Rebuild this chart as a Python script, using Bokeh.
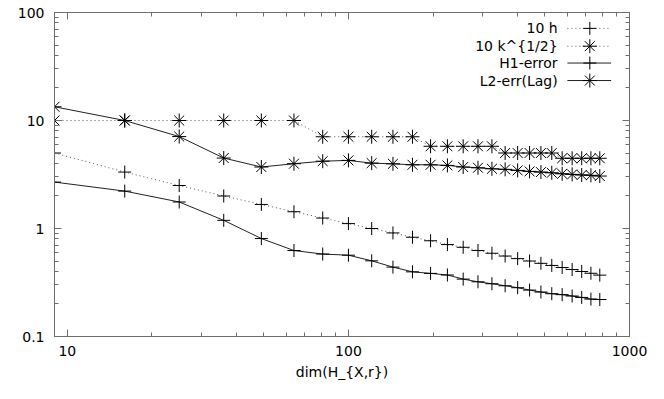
import math
from bokeh.plotting import figure
from bokeh.models import LogAxis, FixedTicker, Range1d, CustomJSTickFormatter
from bokeh.core.properties import value
from bokeh.embed import file_html
from bokeh.resources import INLINE

# ---- data ----
dims = [9, 16, 25, 36, 49, 64, 81, 100, 121, 144, 169, 196, 225, 256, 289,
        324, 361, 400, 441, 484, 529, 576, 625, 676, 729, 784]
ten_h = [5.0, 3.33, 2.5, 2.0, 1.67, 1.43, 1.25, 1.11, 1.0, 0.91, 0.83, 0.77,
         0.71, 0.67, 0.625, 0.59, 0.556, 0.526, 0.5, 0.476, 0.455, 0.435,
         0.417, 0.4, 0.385, 0.37]
ten_k = [10.0, 10.0, 10.0, 10.0, 10.0, 10.0, 7.07, 7.07, 7.07, 7.07, 7.07,
         5.77, 5.77, 5.77, 5.77, 5.77, 5.0, 5.0, 5.0, 5.0, 5.0,
         4.47, 4.47, 4.47, 4.47, 4.47]
h1_err = [2.69, 2.22, 1.76, 1.19, 0.807, 0.625, 0.58, 0.566, 0.502, 0.439,
          0.397, 0.384, 0.371, 0.340, 0.321, 0.308, 0.295, 0.283, 0.269,
          0.258, 0.249, 0.244, 0.237, 0.230, 0.222, 0.220]
l2_err = [13.4, 10.0, 7.1, 4.49, 3.71, 3.98, 4.2, 4.27, 4.03, 3.97, 3.89,
          3.89, 3.84, 3.71, 3.65, 3.57, 3.53, 3.45, 3.38, 3.33, 3.28, 3.21,
          3.17, 3.13, 3.11, 3.06]
labels = ["10 h", "10 k^{1/2}", "H1-error", "L2-err(Lag)"]
x_major = [10, 100, 1000]
y_major = [0.1, 1, 10, 100]

# ---- styling ----
FONT = "DejaVu Sans"
FS = "14px"
BORDER = "#6e6e6e"
XMIN, XMAX = 9, 1000
YMIN, YMAX = 0.1, 100

p = figure(width=648, height=383, x_axis_type="log", y_axis_type="log",
           x_range=Range1d(XMIN, XMAX), y_range=Range1d(YMIN, YMAX),
           output_backend="svg", toolbar_location=None,
           min_border_left=54, min_border_right=19, min_border_top=12,
           min_border_bottom=47)
p.xgrid.visible = False
p.ygrid.visible = False
p.outline_line_color = BORDER
p.outline_line_width = 1
p.background_fill_color = "white"
p.border_fill_color = "white"

x_minor = [9] + [m * d for d in (10, 100) for m in range(2, 10)]
y_minor = [m * d for d in (0.1, 1, 10) for m in range(2, 10)]
xt = FixedTicker(ticks=x_major, minor_ticks=x_minor)
yt = FixedTicker(ticks=y_major, minor_ticks=y_minor)
fmt = CustomJSTickFormatter(code="return String(tick);")
blank = CustomJSTickFormatter(code="return '';")


def style_axis(ax, show_labels):
    ax.axis_line_color = BORDER
    ax.major_tick_line_color = BORDER
    ax.minor_tick_line_color = BORDER
    ax.major_tick_in = 7
    ax.major_tick_out = 0
    ax.minor_tick_in = 4
    ax.minor_tick_out = 0
    ax.major_label_text_font = FONT
    ax.major_label_text_font_size = FS if show_labels else "1px"
    ax.major_label_text_color = "black"
    ax.major_label_standoff = 9 if show_labels else 0
    ax.axis_label_text_font = FONT
    ax.axis_label_text_font_size = FS
    ax.axis_label_text_font_style = "normal"
    ax.axis_label_text_color = "black"


p.xaxis.ticker = xt
p.yaxis.ticker = yt
p.xaxis.formatter = fmt
p.yaxis.formatter = fmt
style_axis(p.xaxis[0], True)
style_axis(p.yaxis[0], True)
p.yaxis.major_label_standoff = 10
p.xaxis.axis_label = "dim(H_{X,r})"
p.xaxis.axis_label_standoff = 5

top = LogAxis(ticker=xt, formatter=blank)
right = LogAxis(ticker=yt, formatter=blank)
style_axis(top, False)
style_axis(right, False)
p.add_layout(top, "above")
p.add_layout(right, "right")

DOT = dict(line_color="#555555", line_width=1, line_dash="1 3")
SOLID = dict(line_color="#222222", line_width=1)
MK = dict(line_color="black", line_width=1, fill_color=None)

p.line(dims, ten_h, **DOT)
p.scatter(dims, ten_h, marker="cross", size=13, **MK)
p.line(dims, ten_k, **DOT)
p.scatter(dims, ten_k, marker="asterisk", size=14, **MK)
p.line(dims, h1_err, **SOLID)
p.scatter(dims, h1_err, marker="cross", size=13, **MK)
p.line(dims, l2_err, **SOLID)
p.scatter(dims, l2_err, marker="asterisk", size=14, **MK)


# ---- legend (gnuplot style: text right-aligned, sample on the right) ----
def fx(f):
    return 10 ** (math.log10(XMIN) + f * (math.log10(XMAX) - math.log10(XMIN)))


def fy(f):  # fraction from top
    return 10 ** (math.log10(YMAX) - f * (math.log10(YMAX) - math.log10(YMIN)))


rows = [0.049, 0.104, 0.156, 0.21]
styles = [(DOT, "cross", 13), (DOT, "asterisk", 14),
          (SOLID, "cross", 13), (SOLID, "asterisk", 14)]
for lab, fr, (ls, mk, sz) in zip(labels, rows, styles):
    yv = fy(fr)
    p.text(x=[fx(0.875)], y=[yv], text=[lab], text_align="right",
           text_baseline="middle", text_font=value(FONT), text_font_size=FS,
           text_color="black")
    p.line([fx(0.892), fx(0.968)], [yv, yv], **ls)
    p.scatter([fx(0.931)], [yv], marker=mk, size=sz, **MK)

open("out.html", "w").write(file_html(p, INLINE))
